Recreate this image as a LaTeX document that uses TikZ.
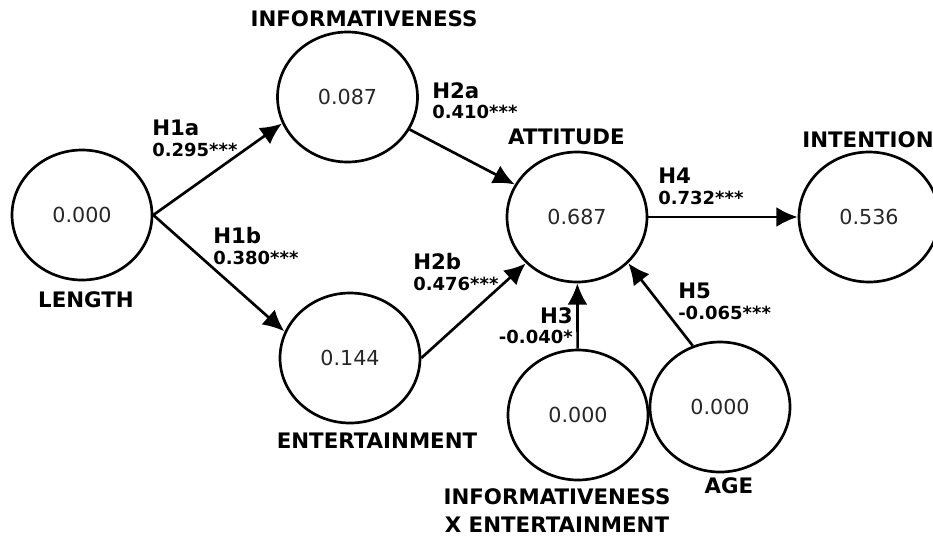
\documentclass[tikz,border=0pt]{standalone}
\usepackage{fontspec}
\setmainfont{DejaVu Sans}
\usetikzlibrary{shapes.geometric,arrows.meta,decorations.markings}

\begin{document}
\begin{tikzpicture}[x=0.75pt,y=-0.75pt,
  var/.style={draw,line width=2pt,ellipse,minimum width=105pt,minimum height=97.5pt,inner sep=0pt,text=black!85,font=\fontsize{15.5}{17}\selectfont},
  lbl/.style={inner sep=0pt,align=center,font=\bfseries\fontsize{16}{21}\selectfont},
  hyp/.style={inner sep=0pt,align=left,font=\bfseries\fontsize{16}{15.5}\selectfont},
  link/.style={line width=2pt,shorten >=5pt,decoration={markings, mark=at position 1 with {\arrow{Latex[length=16pt,width=15pt]}}},postaction={decorate}}]

\useasboundingbox (0,0) rectangle (933,537);

\node[var] (len) at (82,215) {0.000};
\node[var] (info) at (347.5,97) {0.087};
\node[var] (ent) at (350,358) {0.144};
\node[var] (att) at (577,217) {0.687};
\node[var] (int) at (869,217) {0.536};
\node[var] (ixe) at (578,415) {0.000};
\node[var] (age) at (720,407) {0.000};

\node[lbl] (len-lbl) at (86,299.5) {LENGTH};
\node[lbl] (info-lbl) at (364,19) {INFORMATIVENESS};
\node[lbl] (ent-lbl) at (377,441) {ENTERTAINMENT};
\node[lbl] (att-lbl) at (566.5,136.5) {ATTITUDE};
\node[lbl] (int-lbl) at (868,139.5) {INTENTION};
\node[lbl] (ixe-lbl) at (557,511) {INFORMATIVENESS\\X ENTERTAINMENT};
\node[lbl] (age-lbl) at (729,485.5) {AGE};

\draw[link] (len.east) -- (info.202);
\draw[link] (len.east) -- (ent.158);
\draw[link] (info) -- (att);
\draw[link] (ent.east) -- (att);
\draw[link] (ixe) -- (att);
\draw[link] (age.114) -- (att.-42);
\draw[link] (att) -- (int);

\node[hyp,anchor=north west] (h1a) at (152,120) {H1a\\{\fontsize{13.5}{15.5}\selectfont 0.295***}};
\node[hyp,anchor=north west] (h1b) at (213,227) {H1b\\{\fontsize{13.5}{15.5}\selectfont 0.380***}};
\node[hyp,anchor=north west] (h2a) at (432,82) {H2a\\{\fontsize{13.5}{15.5}\selectfont 0.410***}};
\node[hyp,anchor=north west] (h2b) at (413,253) {H2b\\{\fontsize{13.5}{15.5}\selectfont 0.476***}};
\node[hyp,anchor=north east,align=right] (h3) at (573,307) {H3\\{\fontsize{13.5}{15.5}\selectfont -0.040*}};
\node[hyp,anchor=north west] (h4) at (658,168) {H4\\{\fontsize{13.5}{15.5}\selectfont 0.732***}};
\node[hyp,anchor=north west] (h5) at (678,283) {H5\\{\fontsize{13.5}{15.5}\selectfont -0.065***}};

\end{tikzpicture}
\end{document}
